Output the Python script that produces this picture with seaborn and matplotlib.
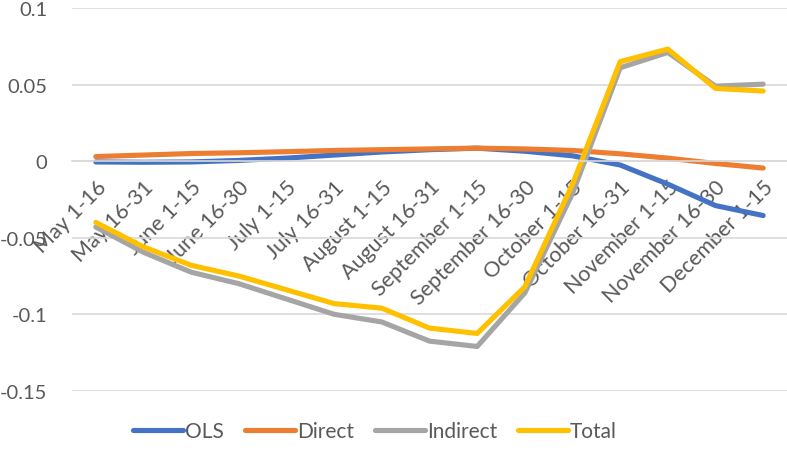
import matplotlib
matplotlib.use("Agg")
import matplotlib.pyplot as plt
import pandas as pd
import seaborn as sns

# periods on the x axis
periods = ["May 1-16", "May 16-31", "June 1-15", "June 16-30", "July 1-15",
           "July 16-31", "August 1-15", "August 16-31", "September 1-15",
           "September 16-30", "October 1-15", "October 16-31", "November 1-15",
           "November 16-30", "December 1-15"]

# series values
ols = [-0.0005, -0.0007, -0.0005, 0.0005, 0.002, 0.004, 0.006, 0.0075,
       0.0085, 0.0065, 0.0035, -0.0025, -0.015, -0.029, -0.0355]
direct = [0.003, 0.004, 0.005, 0.0055, 0.0062, 0.007, 0.0075, 0.008,
          0.0085, 0.008, 0.007, 0.0048, 0.002, -0.0015, -0.0045]
indirect = [-0.043, -0.0595, -0.0725, -0.080, -0.090, -0.100, -0.105, -0.1175,
            -0.121, -0.086, -0.021, 0.061, 0.071, 0.049, 0.0503]
total = [-0.040, -0.056, -0.068, -0.075, -0.084, -0.093, -0.096, -0.109,
         -0.1125, -0.082, -0.015, 0.065, 0.0732, 0.0475, 0.0458]

series = {"OLS": ols, "Direct": direct, "Indirect": indirect, "Total": total}
colors = {"OLS": "#4472C4", "Direct": "#ED7D31", "Indirect": "#A5A5A5", "Total": "#FFC000"}

rows = []
for name, vals in series.items():
    for i, v in enumerate(vals):
        rows.append({"pos": i, "period": periods[i], "value": v, "series": name})
df = pd.DataFrame(rows)

sns.set_theme(style="white")
plt.rcParams["font.family"] = ["Lato", "DejaVu Sans"]
text_color = "#595959"

fig = plt.figure(figsize=(7.87, 4.52), dpi=100)
ax = fig.add_axes([0.0915, 0.133, 0.9085, 0.847])

sns.lineplot(data=df, x="pos", y="value", hue="series", palette=colors,
             linewidth=3.7, sort=False, legend=False, ax=ax)

ax.set_xlim(-0.5, len(periods) - 0.5)
ax.set_ylim(-0.15, 0.1)
ax.set_yticks([-0.15, -0.1, -0.05, 0, 0.05, 0.1])
ax.set_yticklabels(["-0.15", "-0.1", "-0.05", "0", "0.05", "0.1"])
ax.yaxis.grid(True, color="#D9D9D9", linewidth=1.2)
ax.set_axisbelow(True)

for side in ["top", "right", "left"]:
    ax.spines[side].set_visible(False)
ax.spines["bottom"].set_position(("data", 0))
ax.spines["bottom"].set_color("#D9D9D9")
ax.spines["bottom"].set_linewidth(1.2)

ax.set_xticks(range(len(periods)))
ax.set_xticklabels(periods, rotation=45, ha="right", va="top",
                   rotation_mode="anchor")
ax.tick_params(axis="x", length=0, pad=11, labelsize=15.5, colors=text_color)
ax.tick_params(axis="y", length=0, pad=18, labelsize=14.5, colors=text_color)
ax.set_xlabel("")
ax.set_ylabel("")

handles = [plt.Line2D([], [], color=colors[n], linewidth=3.7, solid_capstyle="round")
           for n in series]
leg = fig.legend(handles, list(series), loc="center", ncol=4, frameon=False,
                 bbox_to_anchor=(375 / 787, 1 - 432 / 452), fontsize=15,
                 handlelength=2.4, handletextpad=0.1, columnspacing=1.0)
for t in leg.get_texts():
    t.set_color(text_color)

fig.savefig("out.png", dpi=100)
